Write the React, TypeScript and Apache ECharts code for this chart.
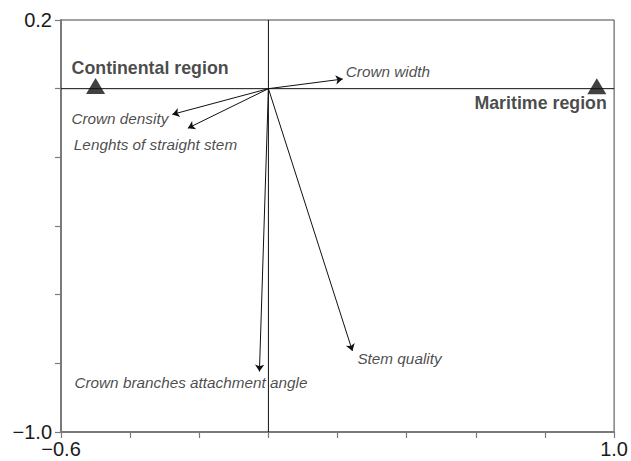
import React, { useEffect, useRef } from "react";
import * as echarts from "echarts";

const vectorNames = [
  "Crown width",
  "Crown density",
  "Lenghts of straight stem",
  "Crown branches attachment angle",
  "Stem quality",
];
const vectorX = [0.215, -0.278, -0.233, -0.026, 0.243];
const vectorY = [0.028, -0.075, -0.115, -0.824, -0.764];

const regionNames = ["Continental region", "Maritime region"];
const regionX = [-0.5, 0.95];
const regionY = [0.008, 0.007];

const xTickLabels: Record<string, string> = { "-0.6": "\u22120.6", "1": "1.0" };
const yTickLabels: Record<string, string> = { "0.2": "0.2", "-1": "\u22121.0" };

const vectorLabelStyle = [
  { align: "left", pos: [3, -8] },
  { align: "right", pos: [-4, 4] },
  { align: "left", pos: [-114, 16] },
  { align: "left", pos: [-185, 11] },
  { align: "left", pos: [5, 8] },
];
const regionLabelStyle = [
  { align: "left", pos: [-24, -18] },
  { align: "right", pos: [10, 17] },
];

const FONT = "'Liberation Sans', Arial, sans-serif";
const TEXT = "#1a1a1a";

function fmt(v: number, map: Record<string, string>) {
  const key = String(Math.round(v * 1000) / 1000);
  return map[key] ?? "";
}

export default function App() {
  const ref = useRef<HTMLDivElement>(null);
  useEffect(() => {
    if (!ref.current) return;
    const chart = echarts.init(ref.current, undefined, { renderer: "svg" });
    const axisGray = "#7a7a7a";
    chart.setOption({
      animation: false,
      backgroundColor: "#fff",
      grid: {
        left: 61,
        right: 15,
        top: 20,
        bottom: 29,
        show: true,
        borderColor: "#444",
        borderWidth: 1,
        backgroundColor: "transparent",
      },
      xAxis: {
        type: "value",
        min: -0.6,
        max: 1.0,
        interval: 0.2,
        splitLine: { show: false },
        axisLine: { show: true, onZero: false, lineStyle: { color: axisGray, width: 2 } },
        axisTick: { show: true, length: 6, inside: false, lineStyle: { color: axisGray, width: 1.2 } },
        axisLabel: {
          show: true,
          margin: 7,
          fontSize: 20,
          color: TEXT,
          fontFamily: FONT,
          showMinLabel: true,
          showMaxLabel: true,
          formatter: (v: number) => fmt(v, xTickLabels),
        },
      },
      yAxis: {
        type: "value",
        min: -1.0,
        max: 0.2,
        interval: 0.2,
        splitLine: { show: false },
        axisLine: { show: true, onZero: false, lineStyle: { color: axisGray, width: 2 } },
        axisTick: { show: true, length: 6, inside: false, lineStyle: { color: axisGray, width: 1.2 } },
        axisLabel: {
          show: true,
          margin: 9,
          fontSize: 20,
          color: TEXT,
          fontFamily: FONT,
          showMinLabel: true,
          showMaxLabel: true,
          formatter: (v: number) => fmt(v, yTickLabels),
        },
      },
      series: [
        {
          type: "line",
          data: [
            [-0.6, 0],
            [1.0, 0],
          ],
          symbol: "none",
          lineStyle: { color: "#111", width: 1 },
          silent: true,
        },
        {
          type: "line",
          data: [
            [0, -1.0],
            [0, 0.2],
          ],
          symbol: "none",
          lineStyle: { color: "#111", width: 1 },
          silent: true,
        },
        {
          type: "lines",
          coordinateSystem: "cartesian2d",
          symbol: ["none", "arrow"],
          symbolSize: [0, 7],
          lineStyle: { color: "#111", width: 1, opacity: 1 },
          data: vectorX.map((x, i) => ({ coords: [[0, 0], [x, vectorY[i]]] })),
          silent: true,
        },
        {
          type: "scatter",
          symbolSize: 0,
          data: vectorX.map((x, i) => ({
            value: [x, vectorY[i]],
            name: vectorNames[i],
            label: {
              show: true,
              formatter: vectorNames[i],
              position: vectorLabelStyle[i].pos,
              align: vectorLabelStyle[i].align,
              verticalAlign: "middle",
              fontSize: 15.3,
              fontStyle: "italic",
              color: TEXT,
              fontFamily: FONT,
            },
          })),
          silent: true,
        },
        {
          type: "scatter",
          symbol: "triangle",
          symbolSize: [19, 16],
          itemStyle: { color: "#111" },
          data: regionX.map((x, i) => ({
            value: [x, regionY[i]],
            name: regionNames[i],
            label: {
              show: true,
              formatter: regionNames[i],
              position: [9.5 + regionLabelStyle[i].pos[0], 8 + regionLabelStyle[i].pos[1]],
              align: regionLabelStyle[i].align,
              verticalAlign: "middle",
              fontSize: 17.8,
              fontWeight: "bold",
              color: TEXT,
              fontFamily: FONT,
            },
          })),
          silent: true,
        },
      ],
    });
    return () => chart.dispose();
  }, []);
  return (
    <div
      ref={ref}
      style={{ position: "fixed", left: 0, top: 0, width: 631, height: 461, background: "#fff" }}
    />
  );
}
